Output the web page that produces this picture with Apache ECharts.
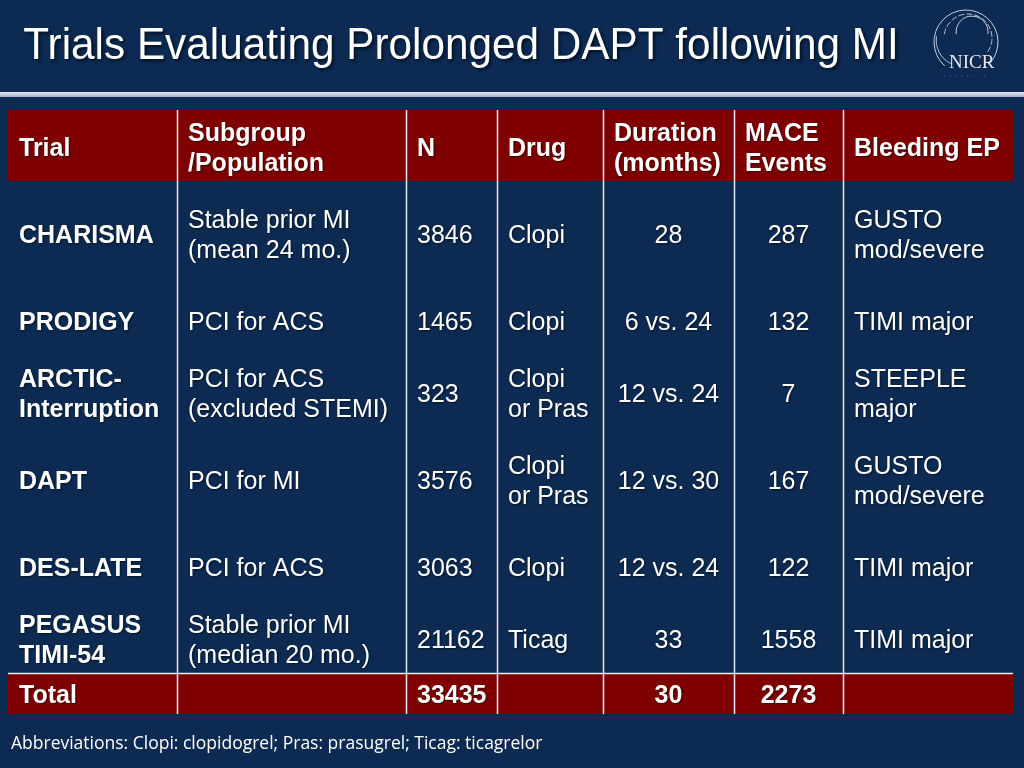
<!DOCTYPE html>
<html>
<head>
<meta charset="utf-8">
<script src="https://cdn.jsdelivr.net/npm/echarts@6/dist/echarts.min.js"></script>
<style>
html,body{margin:0;padding:0;background:#0c2a52;}
#main{width:1024px;height:768px;}
</style>
</head>
<body>
<div id="main"></div>
<script>
// ---- data ----
const titleText = 'Trials Evaluating Prolonged DAPT following MI';
const headers = ['Trial', 'Subgroup\n/Population', 'N', 'Drug', 'Duration\n(months)', 'MACE\nEvents', 'Bleeding EP'];
const trials = ['CHARISMA', 'PRODIGY', 'ARCTIC-\nInterruption', 'DAPT', 'DES-LATE', 'PEGASUS\nTIMI-54'];
const populations = ['Stable prior MI\n(mean 24 mo.)', 'PCI for ACS', 'PCI for ACS\n(excluded STEMI)', 'PCI for MI', 'PCI for ACS', 'Stable prior MI\n(median 20 mo.)'];
const patients = [3846, 1465, 323, 3576, 3063, 21162];
const drugs = ['Clopi', 'Clopi', 'Clopi\nor Pras', 'Clopi\nor Pras', 'Clopi', 'Ticag'];
const durations = ['28', '6 vs. 24', '12 vs. 24', '12 vs. 30', '12 vs. 24', '33'];
const maceEvents = [287, 132, 7, 167, 122, 1558];
const bleedingEP = ['GUSTO\nmod/severe', 'TIMI major', 'STEEPLE\nmajor', 'GUSTO\nmod/severe', 'TIMI major', 'TIMI major'];
const totalRow = ['Total', '', 33435, '', 30, 2273, ''];
const footnote = 'Abbreviations: Clopi: clopidogrel; Pras: prasugrel; Ticag: ticagrelor';

// ---- layout (axis units) ----
const colEdges = [0, 169, 398, 489, 595, 726, 835, 1005];
const rowEdges = [0, 71, 177, 245, 321, 419, 495, 563, 604];
const centeredCols = [4, 5];

const RED = '#7f0000';
const nRows = trials.length;
const totalIdx = nRows + 1;

const cells = [];
headers.forEach((h, c) => cells.push({c, r: 0, text: h, kind: 'header'}));
for (let i = 0; i < nRows; i++) {
  const vals = [trials[i], populations[i], patients[i], drugs[i], durations[i], maceEvents[i], bleedingEP[i]];
  vals.forEach((v, c) => cells.push({c, r: i + 1, text: String(v), kind: c === 0 ? 'trial' : 'body'}));
}
totalRow.forEach((v, c) => cells.push({c, r: totalIdx, text: String(v), kind: 'total'}));

const chart = echarts.init(document.getElementById('main'), null, {renderer: 'canvas'});

const shadow = {textShadowColor: 'rgba(0,0,0,0.55)', textShadowBlur: 2, textShadowOffsetX: 1, textShadowOffsetY: 1};
const FS = 25;

function renderCell(params, api) {
  const cell = cells[params.dataIndex];
  const c = api.value(0), r = api.value(1);
  const p0 = api.coord([colEdges[c], rowEdges[r]]);
  const p1 = api.coord([colEdges[c + 1], rowEdges[r + 1]]);
  const x = p0[0], y = p0[1], w = p1[0] - p0[0], h = p1[1] - p0[1];
  const children = [];
  if (cell.kind === 'header' || cell.kind === 'total') {
    children.push({type: 'rect', shape: {x, y, width: w, height: h}, style: {fill: RED}});
  }
  if (c > 0) {
    const lx = Math.round(x) + 0.5;
    children.push({type: 'line', shape: {x1: lx, y1: y, x2: lx, y2: y + h}, style: {stroke: '#e8eaf2', lineWidth: 1.5}});
  }
  if (cell.kind === 'total') {
    const ly = Math.round(y) + 0.5;
    children.push({type: 'line', shape: {x1: x, y1: ly, x2: x + w, y2: ly}, style: {stroke: '#e8eaf2', lineWidth: 1.5}});
  }
  const center = cell.kind !== 'header' && centeredCols.indexOf(c) >= 0;
  const bold = cell.kind !== 'body';
  children.push({
    type: 'text',
    x: center ? x + w / 2 : x + 11,
    y: y + h / 2 + (cell.kind === 'header' ? 3.5 : 2.5),
    style: Object.assign({
      text: cell.text,
      fill: '#ffffff',
      fontFamily: '"Liberation Sans", Arial, sans-serif',
      fontSize: FS,
      fontWeight: bold ? 'bold' : 'normal',
      lineHeight: 30,
      align: center ? 'center' : 'left',
      verticalAlign: 'middle'
    }, shadow)
  });
  return {type: 'group', children};
}

const option = {
  backgroundColor: '#0c2a52',
  animation: false,
  grid: {left: 8, top: 110, width: 1005, height: 604},
  xAxis: {type: 'value', min: 0, max: colEdges[colEdges.length - 1], show: false},
  yAxis: {type: 'value', min: 0, max: rowEdges[rowEdges.length - 1], inverse: true, show: false},
  graphic: [
    {type: 'text', x: 22, y: 46.5, scaleX: 0.94, scaleY: 1, originX: 22,
     style: {text: titleText, fill: '#ffffff', fontFamily: '"Liberation Sans", Arial, sans-serif', fontSize: 45,
             verticalAlign: 'middle', align: 'left',
             textShadowColor: 'rgba(0,0,0,0.6)', textShadowBlur: 3, textShadowOffsetX: 2, textShadowOffsetY: 2}},
    {type: 'rect', x: 0, y: 92, shape: {width: 1024, height: 5},
     style: {fill: new echarts.graphic.LinearGradient(0, 0, 0, 1, [{offset: 0, color: '#dfe2ee'}, {offset: 1, color: '#aab0cc'}])}},
    {type: 'text', x: 11, y: 744,
     style: {text: footnote, fill: '#ffffff', fontFamily: '"Open Sans", "Noto Sans", sans-serif', fontSize: 17.5, verticalAlign: 'middle'}},
    {type: 'group', x: 0, y: 0, children: [
      {type: 'arc', shape: {cx: 966, cy: 42, r: 32, startAngle: 2.3, endAngle: 7.0}, style: {stroke: '#c9cedd', lineWidth: 1, fill: null}},
      {type: 'arc', shape: {cx: 968, cy: 38, r: 24, startAngle: 3.3, endAngle: 6.9}, style: {stroke: '#b8bed2', lineWidth: 1, fill: null, lineDash: [6, 2]}},
      {type: 'arc', shape: {cx: 972, cy: 32, r: 16, startAngle: 3.0, endAngle: 6.4}, style: {stroke: '#c9cedd', lineWidth: 1, fill: null}},
      {type: 'arc', shape: {cx: 962, cy: 40, r: 26, startAngle: 2.0, endAngle: 3.3}, style: {stroke: '#b8bed2', lineWidth: 1, fill: null}},
      {type: 'text', x: 949, y: 63, style: {text: 'NICR', fill: '#e4e7f0', fontFamily: '"Liberation Serif", "DejaVu Serif", serif', fontSize: 19, verticalAlign: 'middle'}},
      {type: 'text', x: 938, y: 76, style: {text: '·  ·  ·  ·  ·  ·  ·  ·  ·', fill: '#8e96b2', fontFamily: '"DejaVu Sans", sans-serif', fontSize: 6, verticalAlign: 'middle'}}
    ]}
  ],
  series: [{
    type: 'custom',
    coordinateSystem: 'cartesian2d',
    clip: false,
    silent: true,
    renderItem: renderCell,
    encode: {x: 0, y: 1},
    data: cells.map(cl => [cl.c, cl.r])
  }]
};
chart.setOption(option);
</script>
</body>
</html>
